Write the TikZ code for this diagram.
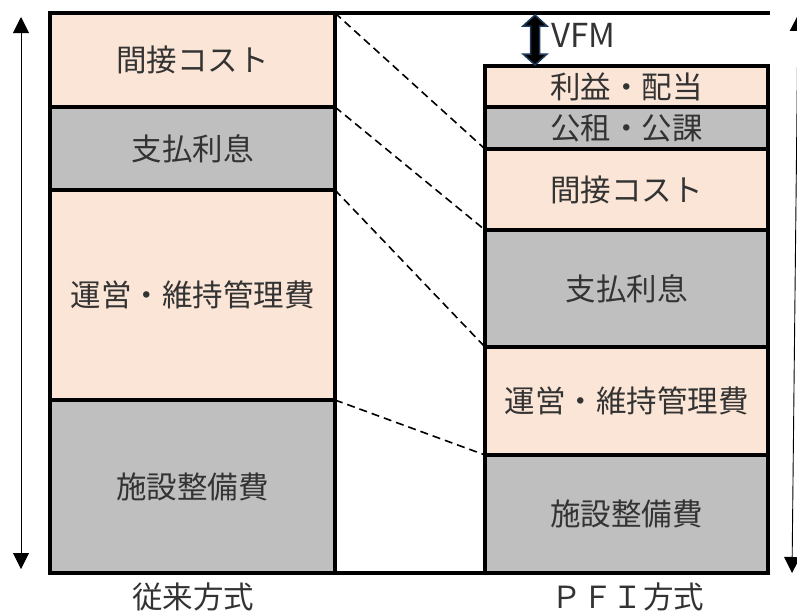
\documentclass[tikz,border=0pt]{standalone}
\usepackage{fontspec}
\setmainfont{Noto Sans CJK JP}
\usetikzlibrary{arrows.meta}
\definecolor{peach}{HTML}{FBE5D6}
\definecolor{costgray}{HTML}{BFBFBF}
\definecolor{vfmblue}{HTML}{1F3A5C}

\begin{document}
\begin{tikzpicture}[x=1pt,y=-1pt,
		costbox/.style={draw=black,line width=3.5pt,anchor=north west,minimum width=#1,
			inner sep=0pt,outer sep=0pt,text=black!80,font=\fontsize{30.5}{30.5}\selectfont},
		sidearrow/.style={{Triangle[width=16pt,length=16pt]}-{Triangle[width=16pt,length=16pt]},line width=0.9pt},
		linkline/.style={dashed,dash pattern=on 8pt off 5pt,line width=1.6pt},
		caption/.style={text=black!80,font=\fontsize{30.5}{30.5}\selectfont}]
		\useasboundingbox (0,0) rectangle (797,611);

		% Conventional method
		\begin{scope}
			\node[costbox=285,fill=peach,minimum height=94] (L1) at (50,13) {間接コスト};
			\node[costbox=285,fill=costgray,minimum height=83] (L2) at (50,107) {支払利息};
			\node[costbox=285,fill=peach,minimum height=210] (L3) at (50,190) {運営・維持管理費};
			\node[costbox=285,fill=costgray,minimum height=173] (L4) at (50,400) {施設整備費};
			\node[caption] (Lcap) at (193,597) {従来方式};
		\end{scope}

		% PFI method
		\begin{scope}
			\node[costbox=283,fill=peach,minimum height=41] (R0) at (485,66) {利益・配当};
			\node[costbox=283,fill=costgray,minimum height=42] (R1) at (485,107) {公租・公課};
			\node[costbox=283,fill=peach,minimum height=81] (R2) at (485,149) {間接コスト};
			\node[costbox=283,fill=costgray,minimum height=117] (R3) at (485,230) {支払利息};
			\node[costbox=283,fill=peach,minimum height=108] (R4) at (485,347) {運営・維持管理費};
			\node[costbox=283,fill=costgray,minimum height=118] (R5) at (485,455) {施設整備費};
			\node[caption] (Rcap) at (628,597) {ＰＦＩ方式};
		\end{scope}

		% base and top lines
		\coordinate (topend) at (770,13);
		\draw[line width=3.5pt] (L1.north west) -- (topend);
		\draw[line width=3.5pt] (L4.south west) -- (R5.south west);

		% links between the columns
		\draw[linkline] (L1.north east) -- (R2.north west);
		\draw[linkline] (L2.north east) -- (R3.north west);
		\draw[linkline] (L3.north east) -- (R4.north west);
		\draw[linkline] (L4.north east) -- (R5.north west);

		% total height arrows
		\coordinate (ltop) at (21,17);
		\coordinate (lbot) at (21,569);
		\coordinate (rtop) at (798,15);
		\coordinate (rbot) at (792,573);
		\draw[sidearrow] (lbot) -- (ltop);
		\draw[sidearrow] (rbot) -- (rtop);

		% VFM gap
		\draw[fill=black,draw=vfmblue,line width=1.5pt] (535,15) -- (547,26) -- (539.5,26) -- (539.5,54)
			-- (547,54) -- (535,65) -- (523,54) -- (530.5,54) -- (530.5,26) -- (523,26) -- cycle;
		\node[anchor=base west,inner sep=0pt,text=black!80,font=\fontsize{33}{33}\selectfont] (vfm) at (551,47) {VFM};
	\end{tikzpicture}
\end{document}
